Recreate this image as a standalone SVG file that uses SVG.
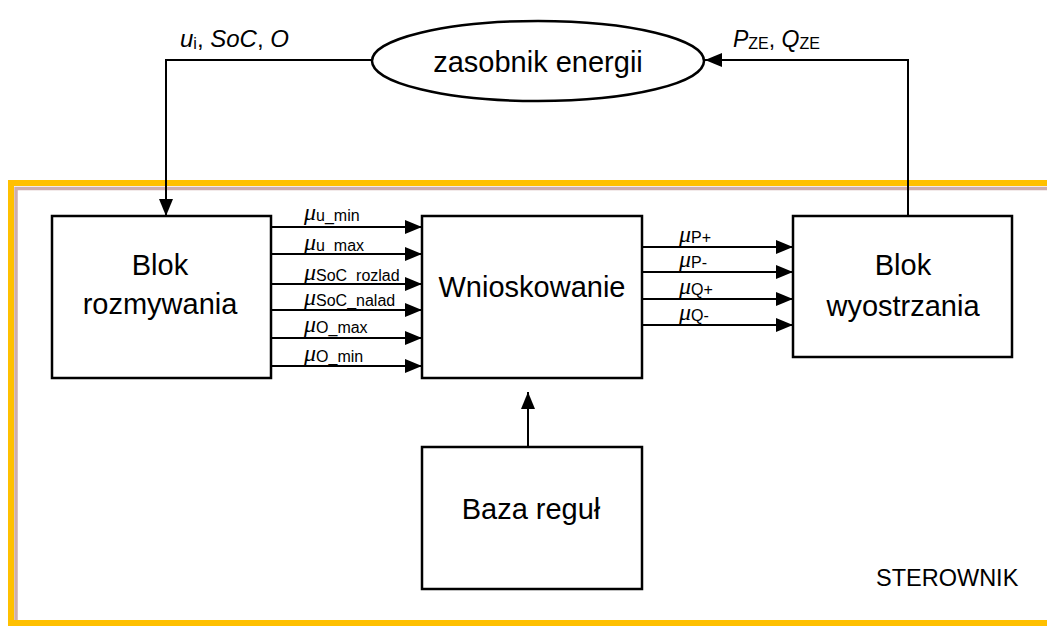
<svg xmlns="http://www.w3.org/2000/svg" width="1047" height="626" viewBox="0 0 1047 626">
<style>
.box{fill:#fff;stroke:#000;stroke-width:2.5}
.t{font-family:"Liberation Sans",Arial,sans-serif;fill:#000}
.big{font-size:29px}
.mu{font-family:"Liberation Serif","Times New Roman",serif;font-style:italic;font-size:24px}
.sub{font-size:16px;font-family:"Liberation Sans",Arial,sans-serif}
.ln{fill:none;stroke:#000;stroke-width:2}
</style>
<defs>
<marker id="ah" markerUnits="userSpaceOnUse" markerWidth="18" markerHeight="14" refX="17" refY="7" orient="auto">
<path d="M0,0 L17,7 L0,14 Z" fill="#000"/>
</marker>
</defs>
<rect width="1047" height="626" fill="#fff"/>
<g id="frame">
<rect x="11" y="183" width="1050" height="440" fill="none" stroke="#ffc000" stroke-width="6"/>
<path d="M16,620 V188.5 H1047" fill="none" stroke="#c09898" stroke-width="3.5" opacity="0.8"/>
<text class="t" x="876" y="586" font-size="23.5">STEROWNIK</text>
</g>
<g id="connectors">
<path class="ln" d="M372,60 H166 V216" marker-end="url(#ah)"/>
<path class="ln" d="M908,216 V60 H705" marker-end="url(#ah)"/>
<path class="ln" d="M528,447 V392" marker-end="url(#ah)"/>
<path class="ln" d="M271,227 H422" marker-end="url(#ah)"/>
<path class="ln" d="M271,254 H422" marker-end="url(#ah)"/>
<path class="ln" d="M271,284 H422" marker-end="url(#ah)"/>
<path class="ln" d="M271,310 H422" marker-end="url(#ah)"/>
<path class="ln" d="M271,338 H422" marker-end="url(#ah)"/>
<path class="ln" d="M271,366 H422" marker-end="url(#ah)"/>
<path class="ln" d="M642,247 H793" marker-end="url(#ah)"/>
<path class="ln" d="M642,272 H793" marker-end="url(#ah)"/>
<path class="ln" d="M642,299 H793" marker-end="url(#ah)"/>
<path class="ln" d="M642,325 H793" marker-end="url(#ah)"/>
<text class="t" x="180" y="47" font-size="24"><tspan font-style="italic">u</tspan><tspan class="sub" font-size="15" dy="2">i</tspan><tspan dy="-2">, </tspan><tspan font-style="italic">SoC</tspan>, <tspan font-style="italic">O</tspan></text>
<text class="t" x="733" y="47" font-size="23"><tspan font-style="italic">P</tspan><tspan class="sub" dy="2">ZE</tspan><tspan dy="-2">, </tspan><tspan font-style="italic">Q</tspan><tspan class="sub" dy="2">ZE</tspan></text>
<g class="t">
<text x="304" y="220"><tspan class="mu">μ</tspan><tspan class="sub" dy="1">u_min</tspan></text>
<text x="304" y="250"><tspan class="mu">μ</tspan><tspan class="sub" dy="1">u_max</tspan></text>
<text x="304" y="280"><tspan class="mu">μ</tspan><tspan class="sub" dy="1">SoC_rozlad</tspan></text>
<text x="304" y="305"><tspan class="mu">μ</tspan><tspan class="sub" dy="1">SoC_nalad</tspan></text>
<text x="304" y="332"><tspan class="mu">μ</tspan><tspan class="sub" dy="1">O_max</tspan></text>
<text x="304" y="361"><tspan class="mu">μ</tspan><tspan class="sub" dy="1">O_min</tspan></text>
<text x="679" y="242"><tspan class="mu">μ</tspan><tspan class="sub" dy="1">P+</tspan></text>
<text x="679" y="267"><tspan class="mu">μ</tspan><tspan class="sub" dy="1">P-</tspan></text>
<text x="679" y="294"><tspan class="mu">μ</tspan><tspan class="sub" dy="1">Q+</tspan></text>
<text x="679" y="320"><tspan class="mu">μ</tspan><tspan class="sub" dy="1">Q-</tspan></text>
</g>
</g>
<g id="zasobnik">
<ellipse cx="538" cy="61" rx="166" ry="40" fill="#fff" stroke="#000" stroke-width="2.5"/>
<text class="t big" x="538" y="72" text-anchor="middle">zasobnik energii</text>
</g>
<g id="rozmywanie">
<rect class="box" x="52" y="216" width="219" height="162"/>
<text class="t big" x="160" y="275" text-anchor="middle">Blok</text>
<text class="t big" x="160" y="314" text-anchor="middle">rozmywania</text>
</g>
<g id="wnioskowanie">
<rect class="box" x="422" y="216" width="220" height="162"/>
<text class="t big" x="532" y="297" text-anchor="middle">Wnioskowanie</text>
</g>
<g id="wyostrzanie">
<rect class="box" x="793" y="216" width="219" height="141"/>
<text class="t big" x="903" y="275" text-anchor="middle">Blok</text>
<text class="t big" x="903" y="316" text-anchor="middle">wyostrzania</text>
</g>
<g id="baza">
<rect class="box" x="422" y="447" width="220" height="142"/>
<text class="t big" x="531" y="519" text-anchor="middle">Baza reguł</text>
</g>
</svg>
